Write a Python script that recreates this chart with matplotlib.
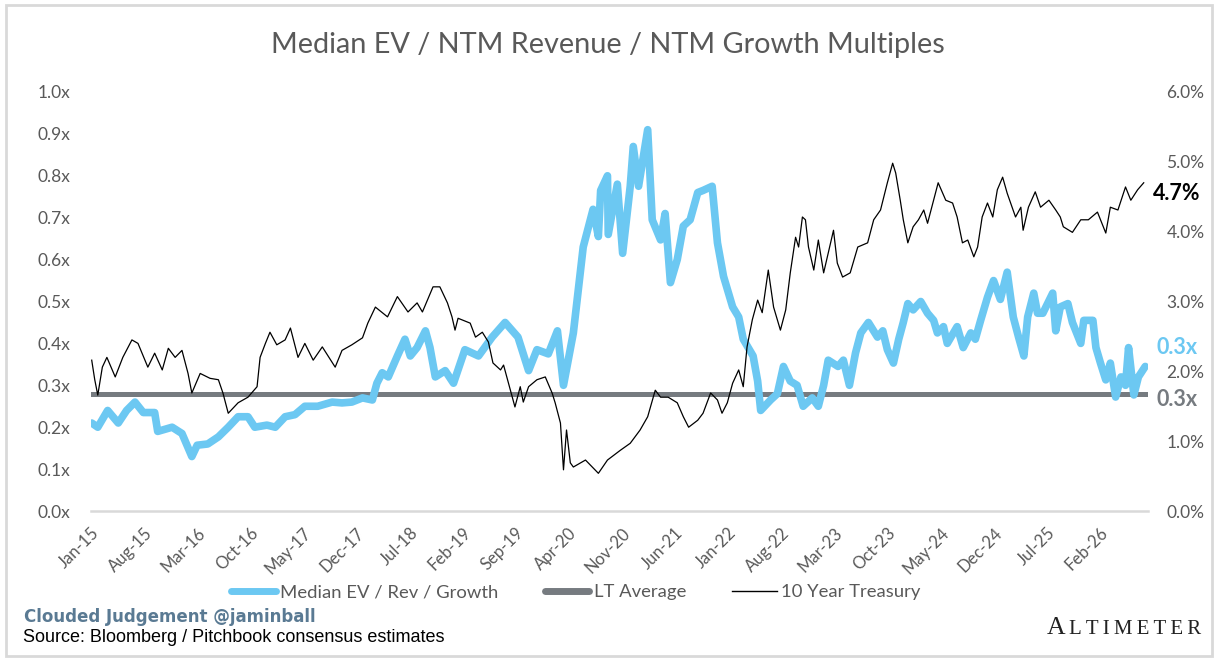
import matplotlib
matplotlib.use("Agg")
import matplotlib.pyplot as plt
from matplotlib.lines import Line2D
from matplotlib.patches import Rectangle
from matplotlib.ticker import FuncFormatter, MultipleLocator

# x positions are months since Jan-15
ev_months = [
    0.1, 0.9, 2.2, 3.6, 4.7, 5.8, 6.9, 8.4, 8.8, 10.7, 12.0, 13.3, 14.0, 15.4,
    16.8, 18.1, 19.4, 20.7, 21.6, 23.2, 24.3, 25.6, 26.9, 28.2, 29.9, 31.8,
    33.1, 34.4, 35.8, 37.1, 37.7, 38.4, 39.2, 40.4, 41.4, 42.1, 43.0, 44.1,
    44.7, 45.4, 46.7, 47.8, 49.3, 51.1, 52.9, 54.6, 56.3, 57.7, 58.8, 60.3,
    61.5, 62.3, 63.6, 64.2, 64.9, 66.2, 66.9, 67.2, 68.1, 68.2, 69.4, 70.1,
    71.1, 71.5, 72.2, 73.4, 74.0, 75.1, 75.7, 76.4, 77.3, 78.1, 79.0, 80.0,
    80.7, 81.9, 82.6, 83.4, 84.6, 85.4, 86.0, 87.3, 87.9, 88.3, 89.6, 90.5,
    91.3, 92.2, 93.1, 93.9, 95.1, 95.9, 96.6, 97.2, 98.5, 99.2, 100.0, 100.8,
    101.5, 102.5, 103.7, 104.4, 105.0, 105.8, 106.5, 107.1, 107.7, 108.4,
    109.4, 110.3, 111.1, 111.6, 112.4, 112.9, 114.2, 115.0, 116.0, 116.6,
    117.3, 118.2, 119.0, 119.9, 120.8, 121.6, 122.3, 123.0, 123.5, 124.3,
    124.8, 125.5, 126.8, 127.2, 127.8, 128.8, 129.4, 130.5, 130.9, 132.1,
    132.5, 133.1, 133.8, 134.4, 135.1, 135.8, 136.4, 136.8, 137.5, 138.1,
    139.0,
]
ev_multiple = [
    0.21, 0.20, 0.24, 0.21, 0.24, 0.26, 0.235, 0.235, 0.19, 0.20, 0.185, 0.13,
    0.157, 0.16, 0.177, 0.20, 0.225, 0.225, 0.20, 0.205, 0.20, 0.225, 0.23,
    0.25, 0.25, 0.26, 0.258, 0.26, 0.27, 0.265, 0.305, 0.33, 0.32, 0.37, 0.41,
    0.37, 0.39, 0.43, 0.39, 0.32, 0.335, 0.305, 0.385, 0.37, 0.415, 0.45,
    0.415, 0.335, 0.385, 0.375, 0.43, 0.30, 0.425, 0.52, 0.63, 0.72, 0.655,
    0.765, 0.80, 0.66, 0.78, 0.615, 0.775, 0.87, 0.775, 0.91, 0.695, 0.647,
    0.71, 0.545, 0.60, 0.68, 0.695, 0.76, 0.765, 0.775, 0.64, 0.56, 0.487,
    0.463, 0.41, 0.37, 0.31, 0.24, 0.265, 0.28, 0.345, 0.31, 0.30, 0.25, 0.27,
    0.25, 0.30, 0.36, 0.345, 0.36, 0.30, 0.377, 0.425, 0.45, 0.415, 0.43,
    0.385, 0.353, 0.41, 0.45, 0.495, 0.48, 0.50, 0.472, 0.455, 0.425, 0.44,
    0.40, 0.44, 0.39, 0.425, 0.41, 0.455, 0.51, 0.55, 0.505, 0.57, 0.463,
    0.415, 0.37, 0.463, 0.52, 0.472, 0.472, 0.52, 0.43, 0.487, 0.495, 0.45,
    0.40, 0.455, 0.455, 0.39, 0.353, 0.313, 0.353, 0.272, 0.32, 0.30, 0.39,
    0.277, 0.32, 0.345,
]
tsy_months = [
    0.1, 0.5, 0.9, 1.5, 2.1, 3.2, 4.2, 5.4, 6.2, 7.5, 8.4, 9.4, 10.2, 11.1,
    12.0, 12.8, 13.3, 14.4, 15.7, 16.8, 17.4, 18.1, 19.4, 20.7, 21.9, 22.3,
    23.0, 23.6, 24.5, 25.6, 26.3, 27.3, 28.2, 29.3, 30.5, 32.2, 33.1, 34.4,
    35.8, 36.5, 37.5, 39.1, 40.4, 41.8, 43.0, 43.7, 45.1, 46.0, 47.0, 47.6,
    48.0, 48.4, 50.0, 50.7, 51.6, 52.4, 53.0, 54.0, 54.4, 55.3, 55.9, 56.6,
    57.0, 57.7, 58.8, 59.9, 60.8, 61.2, 61.9, 62.3, 62.7, 63.2, 63.6, 65.2,
    66.9, 68.1, 69.8, 71.1, 72.4, 73.4, 74.4, 75.1, 76.1, 77.3, 78.1, 78.8,
    80.0, 80.7, 81.7, 82.6, 83.2, 83.9, 84.6, 85.4, 86.0, 86.5, 87.2, 87.9,
    88.5, 89.3, 90.0, 90.9, 91.6, 92.2, 92.9, 93.3, 93.8, 94.2, 94.6, 95.3,
    95.9, 96.6, 97.9, 98.4, 99.1, 100.1, 101.1, 102.4, 103.2, 104.1, 105.0,
    105.7, 106.1, 106.7, 107.1, 107.7, 108.4, 109.1, 109.8, 110.3, 111.1,
    111.7, 112.7, 113.6, 114.2, 114.9, 115.6, 116.4, 116.9, 117.5, 118.2,
    118.9, 119.5, 120.2, 120.8, 121.9, 122.6, 122.9, 123.6, 124.5, 125.2,
    126.3, 127.2, 127.8, 128.2, 129.4, 130.5, 131.5, 132.7, 133.8, 134.4,
    135.4, 136.4, 137.1, 138.0, 138.8,
]
tsy_yield = [
    2.16, 1.88, 1.66, 2.06, 2.20, 1.92, 2.20, 2.45, 2.40, 2.06, 2.26, 2.02,
    2.33, 2.20, 2.30, 1.97, 1.69, 1.97, 1.90, 1.88, 1.69, 1.40, 1.55, 1.63,
    1.78, 2.20, 2.40, 2.56, 2.38, 2.45, 2.62, 2.20, 2.40, 2.16, 2.35, 2.06,
    2.30, 2.38, 2.48, 2.69, 2.92, 2.78, 3.07, 2.85, 2.98, 2.85, 3.21, 3.21,
    2.98, 2.78, 2.59, 2.76, 2.69, 2.49, 2.56, 2.42, 2.12, 2.02, 2.09, 1.73,
    1.49, 1.78, 1.56, 1.78, 1.88, 1.92, 1.69, 1.55, 1.26, 0.59, 1.16, 0.69,
    0.63, 0.73, 0.54, 0.73, 0.87, 0.97, 1.16, 1.35, 1.73, 1.63, 1.63, 1.55,
    1.35, 1.20, 1.30, 1.40, 1.69, 1.59, 1.40, 1.55, 1.83, 2.02, 1.78, 2.35,
    2.74, 3.02, 2.84, 3.45, 2.92, 2.59, 2.88, 3.41, 3.92, 3.78, 4.21, 4.17,
    3.78, 3.45, 3.88, 3.41, 4.02, 3.55, 3.35, 3.41, 3.78, 3.84, 4.17, 4.31,
    4.70, 4.98, 4.84, 4.45, 4.17, 3.84, 4.07, 4.17, 4.31, 4.12, 4.45, 4.70,
    4.45, 4.41, 4.21, 3.84, 3.88, 3.64, 3.78, 4.21, 4.41, 4.21, 4.60, 4.78,
    4.55, 4.21, 4.35, 4.02, 4.35, 4.57, 4.35, 4.45, 4.31, 4.21, 4.07, 3.99,
    4.17, 4.17, 4.28, 3.98, 4.35, 4.31, 4.64, 4.45, 4.60, 4.70,
]
lt_average = 0.28
tick_labels = [
    "Jan-15", "Aug-15", "Mar-16", "Oct-16", "May-17", "Dec-17", "Jul-18",
    "Feb-19", "Sep-19", "Apr-20", "Nov-20", "Jun-21", "Jan-22", "Aug-22",
    "Mar-23", "Oct-23", "May-24", "Dec-24", "Jul-25", "Feb-26",
]
tick_step = 7

BLUE = "#6CC8F2"
GRAY = "#767B80"
TEXT = "#595959"

plt.rcParams["font.family"] = ["Lato", "DejaVu Sans"]

fig = plt.figure(figsize=(12.16, 6.66), dpi=100)
fig.patches.append(Rectangle((0.005, 0.015), 0.992, 0.978, transform=fig.transFigure,
                             fill=False, edgecolor="#D9D9D9", linewidth=2))

ax = fig.add_axes([0.0748, 0.2327, 0.8695, 0.6292])
ax2 = ax.twinx()

ax.axhline(lt_average, color=GRAY, linewidth=3.6, zorder=2)
ax.plot(ev_months, ev_multiple, color=BLUE, linewidth=5.5,
        solid_joinstyle="round", solid_capstyle="round", zorder=3)
ax2.plot(tsy_months, tsy_yield, color="black", linewidth=0.9)

ax.set_xlim(0, 139.4)
ax.set_ylim(0, 1.0)
ax2.set_ylim(0, 6.0)

ax.set_xticks([i * tick_step for i in range(len(tick_labels))])
ax.set_xticklabels(tick_labels, rotation=45, ha="right", va="top",
                   rotation_mode="anchor", fontsize=12, color=TEXT)
ax.yaxis.set_major_locator(MultipleLocator(0.1))
ax.yaxis.set_major_formatter(FuncFormatter(lambda v, p: f"{v:.1f}x"))
ax2.yaxis.set_major_locator(MultipleLocator(1.0))
ax2.yaxis.set_major_formatter(FuncFormatter(lambda v, p: f"{v:.1f}%"))

ax.tick_params(axis="x", length=0, pad=10)
ax.tick_params(axis="y", length=0, pad=15, labelsize=12.5, labelcolor=TEXT)
ax2.tick_params(axis="y", length=0, pad=13, labelsize=12.5, labelcolor=TEXT)

for a in (ax, ax2):
    for s in ("top", "left", "right", "bottom"):
        a.spines[s].set_visible(False)
ax.axhline(0, color="#D9D9D9", linewidth=1.8, zorder=1, clip_on=False)

# end-of-series labels
ax2.text(1.004, 4.55, "4.7%", transform=ax2.get_yaxis_transform(),
         fontsize=15.5, fontweight="bold", color="black", va="center", ha="left")
ax.text(1.008, 0.39, "0.3x", transform=ax.get_yaxis_transform(),
        fontsize=15.5, fontweight="bold", color=BLUE, va="center", ha="left")
ax.text(1.008, 0.265, "0.3x", transform=ax.get_yaxis_transform(),
        fontsize=15.5, fontweight="bold", color=GRAY, va="center", ha="left")

fig.text(0.5, 1 - 45 / 666, "Median EV / NTM Revenue / NTM Growth Multiples",
         ha="center", va="center", fontsize=20.8, color=TEXT)

handles = [
    Line2D([], [], color=BLUE, linewidth=5, solid_capstyle="round"),
    Line2D([], [], color=GRAY, linewidth=5, solid_capstyle="round"),
    Line2D([], [], color="black", linewidth=1),
]
fig.legend(handles, ["Median EV / Rev / Growth", "LT Average", "10 Year Treasury"],
           loc="center", bbox_to_anchor=(0.4737, 1 - 592 / 666), ncol=3,
           frameon=False, fontsize=13.3, labelcolor=TEXT, handlelength=2.4,
           handletextpad=0.25, columnspacing=2.5)

fig.text(24 / 1216, 1 - 617 / 666, "Clouded Judgement @jaminball",
         family="DejaVu Sans", fontweight="bold", fontsize=12,
         color="#5A7A93", va="center", ha="left")
fig.text(23 / 1216, 1 - 638 / 666, "Source: Bloomberg / Pitchbook consensus estimates",
         family="Liberation Sans", fontsize=13, color="black", va="center", ha="left")
fig.text(1047 / 1216, 1 - 634 / 666, "A", family="Liberation Serif",
         fontsize=18.5, color="#222222", va="baseline", ha="left")
fig.text(1069 / 1216, 1 - 634 / 666, "\u2009".join("LTIMETER"), family="Liberation Serif",
         fontsize=15, color="#222222", va="baseline", ha="left")

fig.savefig("out.png", dpi=100)
